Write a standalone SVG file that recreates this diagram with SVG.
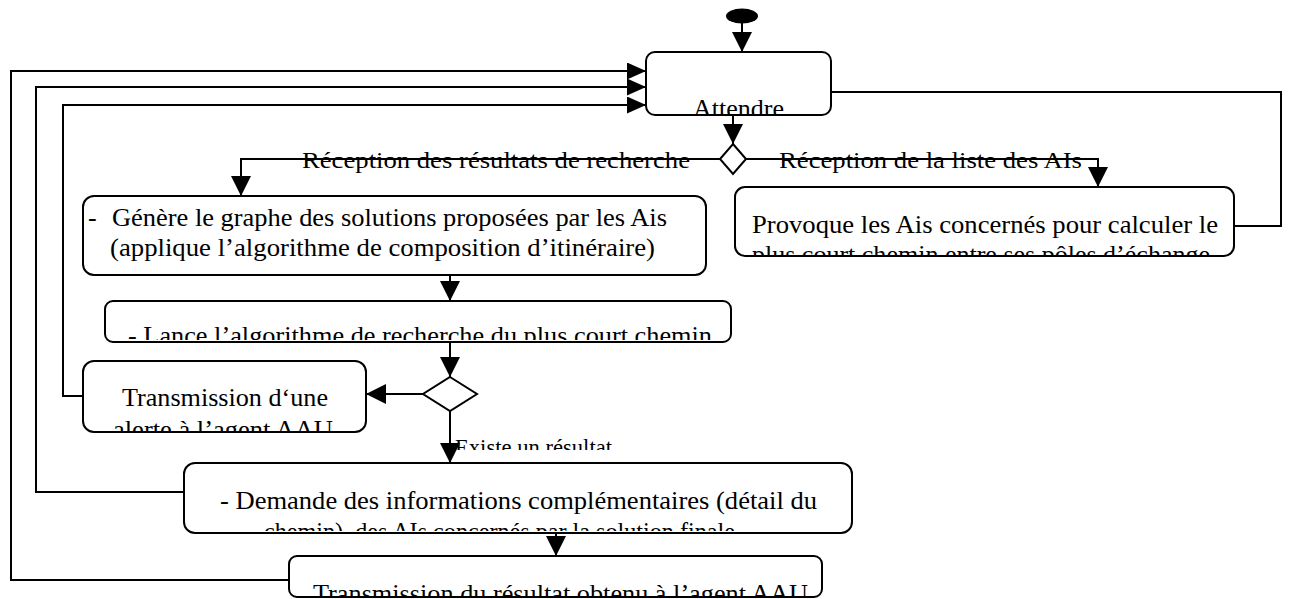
<svg xmlns="http://www.w3.org/2000/svg" width="1291" height="599" viewBox="0 0 1291 599">
  <style>
    .box { fill: #ffffff; stroke: #000000; stroke-width: 2; }
    .dia { fill: #ffffff; stroke: #000000; stroke-width: 2; }
    .edge { fill: none; stroke: #000000; stroke-width: 2; }
    .t { font-family: "Liberation Serif", "Times New Roman", serif; font-size: 26px; fill: #000000; }
    .lbl { font-family: "Liberation Serif", "Times New Roman", serif; font-size: 24px; fill: #000000; }
  </style>
  <defs>
    <marker id="arr" viewBox="0 0 20 20" refX="20" refY="10" markerWidth="20" markerHeight="20" markerUnits="userSpaceOnUse" orient="auto">
      <path d="M0,0 L20,10 L0,20 Z" fill="#000000"/>
    </marker>
    <marker id="arrS" viewBox="0 0 19 17" refX="19" refY="8.5" markerWidth="19" markerHeight="17" markerUnits="userSpaceOnUse" orient="auto">
      <path d="M0,0 L19,8.5 L0,17 Z" fill="#000000"/>
    </marker>
    <clipPath id="cAtt"><rect x="647" y="53" width="183" height="61"/></clipPath>
    <clipPath id="cProv"><rect x="736" y="188" width="497" height="67"/></clipPath>
    <clipPath id="cLance"><rect x="106" y="302" width="624" height="38"/></clipPath>
    <clipPath id="cAlert"><rect x="84" y="362" width="281" height="69"/></clipPath>
    <clipPath id="cExist"><rect x="440" y="420" width="200" height="30"/></clipPath>
    <clipPath id="cDem"><rect x="185" y="464" width="666" height="67"/></clipPath>
    <clipPath id="cRes"><rect x="290" y="557" width="531" height="39"/></clipPath>
  </defs>

  <!-- connectors -->
  <g id="connectors">
    <path class="edge" d="M742,23 V52" marker-end="url(#arr)"/>
    <path class="edge" d="M733,115 V144" marker-end="url(#arr)"/>
    <path class="edge" d="M720,159 H241 V196" marker-end="url(#arr)"/>
    <path class="edge" d="M746,159 H1098 V187" marker-end="url(#arr)"/>
    <path class="edge" d="M1234,226 H1281 V92 H831"/>
    <path class="edge" d="M450,275 V301" marker-end="url(#arr)"/>
    <path class="edge" d="M450,342 V377" marker-end="url(#arr)"/>
    <path class="edge" d="M423,394 H366" marker-end="url(#arr)"/>
    <path class="edge" d="M83,396 H63 V105 H646" marker-end="url(#arrS)"/>
    <path class="edge" d="M450,411 V463" marker-end="url(#arr)"/>
    <path class="edge" d="M184,492 H36 V87 H646" marker-end="url(#arrS)"/>
    <path class="edge" d="M556,533 V556" marker-end="url(#arr)"/>
    <path class="edge" d="M289,580 H11 V71 H646" marker-end="url(#arrS)"/>
  </g>

  <!-- edge labels -->
  <g id="labels">
    <text class="lbl" x="302" y="168" textLength="388" lengthAdjust="spacingAndGlyphs">Réception des résultats de recherche</text>
    <text class="lbl" x="779" y="168" textLength="303" lengthAdjust="spacingAndGlyphs">Réception de la liste des AIs</text>
    <g clip-path="url(#cExist)">
      <text class="lbl" x="455" y="455" textLength="157" lengthAdjust="spacingAndGlyphs">Existe un résultat</text>
    </g>
  </g>

  <!-- initial node -->
  <g id="start">
    <ellipse cx="742" cy="16" rx="16" ry="7.5" fill="#000000"/>
  </g>

  <g id="attendre">
    <rect class="box" x="646" y="52" width="185" height="63" rx="9"/>
    <g clip-path="url(#cAtt)">
      <text class="t" x="693" y="117" textLength="91" lengthAdjust="spacingAndGlyphs">Attendre</text>
    </g>
  </g>

  <g id="decision1">
    <polygon class="dia" points="733,144 746,159 733,174 720,159"/>
  </g>

  <g id="genere">
    <rect class="box" x="83" y="196" width="623" height="79" rx="11"/>
    <text class="t" x="88" y="226">-</text>
    <text class="t" x="112" y="226" textLength="555" lengthAdjust="spacingAndGlyphs">Génère le graphe des solutions proposées par les Ais</text>
    <text class="t" x="110" y="256" textLength="545" lengthAdjust="spacingAndGlyphs">(applique l’algorithme de composition d’itinéraire)</text>
  </g>

  <g id="provoque">
    <rect class="box" x="735" y="187" width="499" height="69" rx="10"/>
    <g clip-path="url(#cProv)">
      <text class="t" x="752" y="233" textLength="466" lengthAdjust="spacingAndGlyphs">Provoque les Ais concernés pour calculer le</text>
      <text class="t" x="752" y="263" textLength="458" lengthAdjust="spacingAndGlyphs">plus court chemin entre ses pôles d’échange</text>
    </g>
  </g>

  <g id="lance">
    <rect class="box" x="105" y="301" width="626" height="41" rx="8"/>
    <g clip-path="url(#cLance)">
      <text class="t" x="128" y="344" textLength="584" lengthAdjust="spacingAndGlyphs">- Lance l’algorithme de recherche du plus court chemin</text>
    </g>
  </g>

  <g id="decision2">
    <polygon class="dia" points="450,377 477,394 450,411 423,394"/>
  </g>

  <g id="alerte">
    <rect class="box" x="83" y="361" width="283" height="71" rx="11"/>
    <g clip-path="url(#cAlert)">
      <text class="t" x="122" y="406" textLength="206" lengthAdjust="spacingAndGlyphs">Transmission d‘une</text>
      <text class="t" x="113" y="438" textLength="220" lengthAdjust="spacingAndGlyphs">alerte à l’agent AAU</text>
    </g>
  </g>

  <g id="demande">
    <rect class="box" x="184" y="463" width="668" height="70" rx="11"/>
    <g clip-path="url(#cDem)">
      <text class="t" x="220" y="509" textLength="597" lengthAdjust="spacingAndGlyphs">- Demande des informations complémentaires (détail du</text>
      <text class="t" x="264" y="540" textLength="471" lengthAdjust="spacingAndGlyphs">chemin), des AIs concernés par la solution finale</text>
    </g>
  </g>

  <g id="resultat">
    <rect class="box" x="289" y="556" width="533" height="41" rx="8"/>
    <g clip-path="url(#cRes)">
      <text class="t" x="313" y="602" textLength="495" lengthAdjust="spacingAndGlyphs">Transmission du résultat obtenu à l’agent AAU</text>
    </g>
  </g>
</svg>
